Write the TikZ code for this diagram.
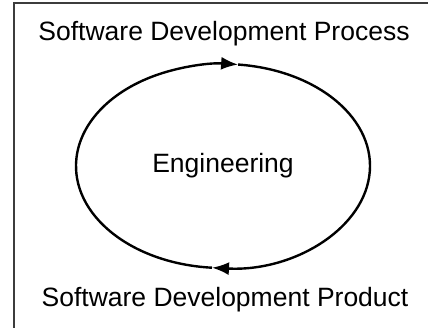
\documentclass[tikz,border=0pt]{standalone}
\usepackage{fontspec}
\setmainfont{Liberation Sans}
\usetikzlibrary{arrows.meta, calc}
\definecolor{frame}{RGB}{60, 60, 60}

\begin{document}
\begin{tikzpicture}[x=1pt, y=1pt,
    label/.style={font=\fontsize{26.5}{30}\selectfont, inner sep=0pt, anchor=base},
    cycle/.style={line width=2.4pt, -{Latex[length=17pt, width=13pt]}}]
\useasboundingbox (0,0) rectangle (428,327);
\clip (0,0) rectangle (428,327);

% Frame
\draw[frame, line width=1.8pt] (14,-10) -- (14,324) -- (440,324);

% Texts
\node[label] (process) at (224,286) {Software Development Process};
\node[label] (engineering) at (223,154) {Engineering};
\node[label] (product) at (225,21) {Software Development Product};

% Cycle
\coordinate (centre) at (223,161);
\draw[cycle] ($(centre)+(265.7:147 and 102)$) arc[start angle=265.7, end angle=84.1, x radius=147, y radius=102];
\draw[cycle] ($(centre)+(84.1:147 and 102)$) arc[start angle=84.1, end angle=-94.3, x radius=147, y radius=102];

\end{tikzpicture}
\end{document}
